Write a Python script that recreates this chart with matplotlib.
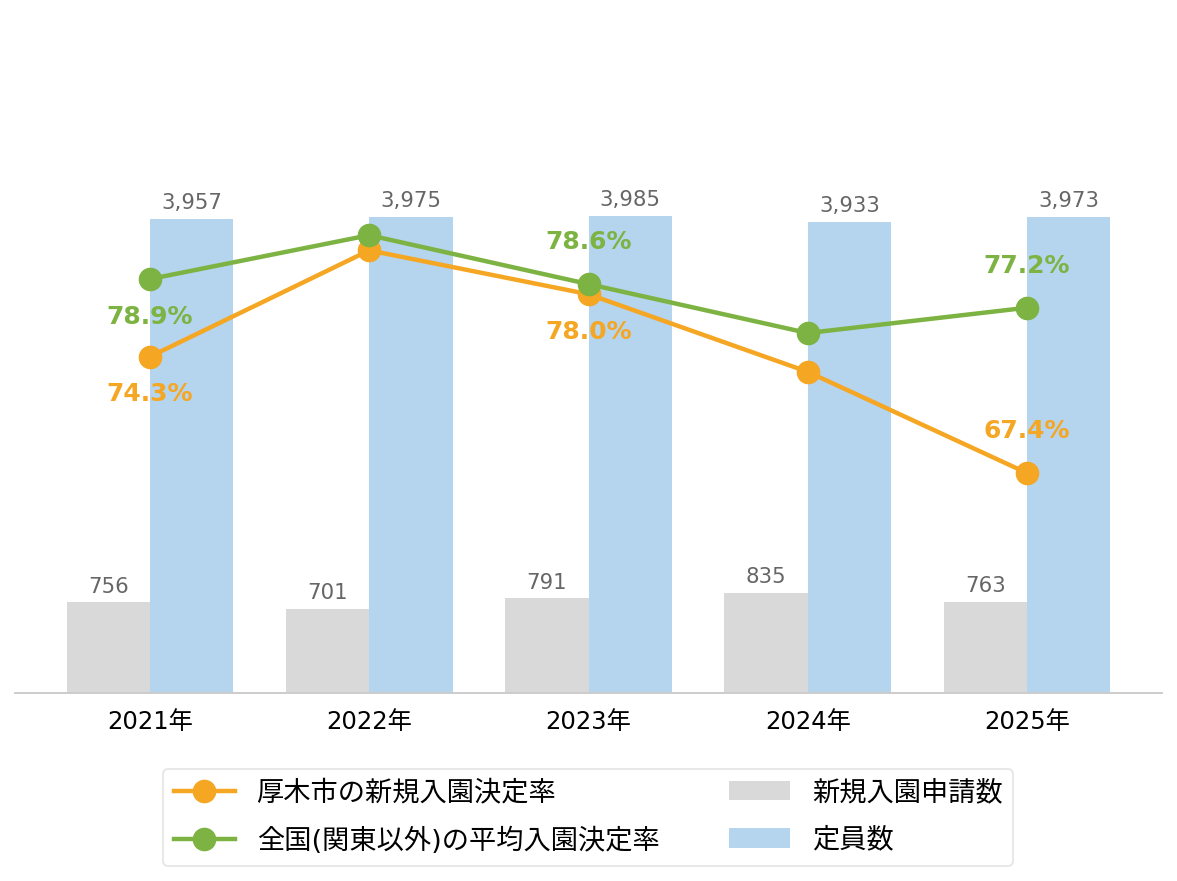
import numpy as np
import matplotlib
matplotlib.use("Agg")
import matplotlib.pyplot as plt

plt.rcParams['font.family'] = ['DejaVu Sans', 'Noto Sans CJK JP']

# データ
years = ['2021年', '2022年', '2023年', '2024年', '2025年']
applications = [756, 701, 791, 835, 763]          # 新規入園申請数
capacity = [3957, 3975, 3985, 3933, 3973]         # 定員数
atsugi_rate = [74.3, 80.6, 78.0, 73.4, 67.4]      # 厚木市の新規入園決定率
national_rate = [78.9, 81.5, 78.6, 75.7, 77.2]    # 全国(関東以外)の平均入園決定率

# ラベル表示位置 (pt, None = 非表示)
atsugi_label_offset = [-27, None, -27, None, 30]
national_label_offset = [-27, None, 30, None, 30]

c_gray = '#D9D9D9'
c_blue = '#B5D4EE'
c_orange = '#F5A623'
c_green = '#7CB342'

fig = plt.figure(figsize=(11.77, 8.81), dpi=100)
ax = fig.add_axes([0.0127, 0.2134, 0.9746, 0.6799])
ax2 = ax.twinx()

x = np.arange(len(years))
w = 0.38
b1 = ax.bar(x - w / 2, applications, w, color=c_gray, label='新規入園申請数')
b2 = ax.bar(x + w / 2, capacity, w, color=c_blue, label='定員数')

for bars, vals in [(b1, applications), (b2, capacity)]:
    for r, v in zip(bars, vals):
        ax.annotate(f'{v:,}', (r.get_x() + r.get_width() / 2, r.get_height()),
                    xytext=(0, 4), textcoords='offset points',
                    ha='center', va='bottom', fontsize=15.3, color='#666666')

l1, = ax2.plot(x, atsugi_rate, color=c_orange, lw=3.2, marker='o', ms=16,
               label='厚木市の新規入園決定率')
l2, = ax2.plot(x, national_rate, color=c_green, lw=3.2, marker='o', ms=16,
               label='全国(関東以外)の平均入園決定率')

for vals, offs, col in [(atsugi_rate, atsugi_label_offset, c_orange),
                        (national_rate, national_label_offset, c_green)]:
    for xi, v, o in zip(x, vals, offs):
        if o is None:
            continue
        ax2.annotate(f'{v:.1f}%', (xi, v), xytext=(0, o), textcoords='offset points',
                     ha='center', va='center', fontsize=18, fontweight='bold', color=col)

ax.set_xlim(-0.616, 4.616)
ax.set_ylim(0, 5000)
ax2.set_ylim(54.36, 89.87)

ax.set_xticks(x)
ax.set_xticklabels(years, fontsize=17.5)
ax.tick_params(axis='x', length=0, pad=12)
ax.set_yticks([])
ax2.set_yticks([])
for a in (ax, ax2):
    for s in ['top', 'left', 'right']:
        a.spines[s].set_visible(False)
    a.spines['bottom'].set_color('#CCCCCC')
    a.spines['bottom'].set_linewidth(1.2)

leg = fig.legend([l1, l2, b1, b2],
                 [l1.get_label(), l2.get_label(), b1.get_label(), b2.get_label()],
                 loc='center', bbox_to_anchor=(0.4996, 0.072), ncol=2,
                 fontsize=19.6, handlelength=2.25, columnspacing=2.55, labelspacing=0.78,
                 frameon=True, edgecolor='#DDDDDD', fancybox=True)
leg.get_frame().set_linewidth(1.2)

fig.savefig('out.png', dpi=100)
